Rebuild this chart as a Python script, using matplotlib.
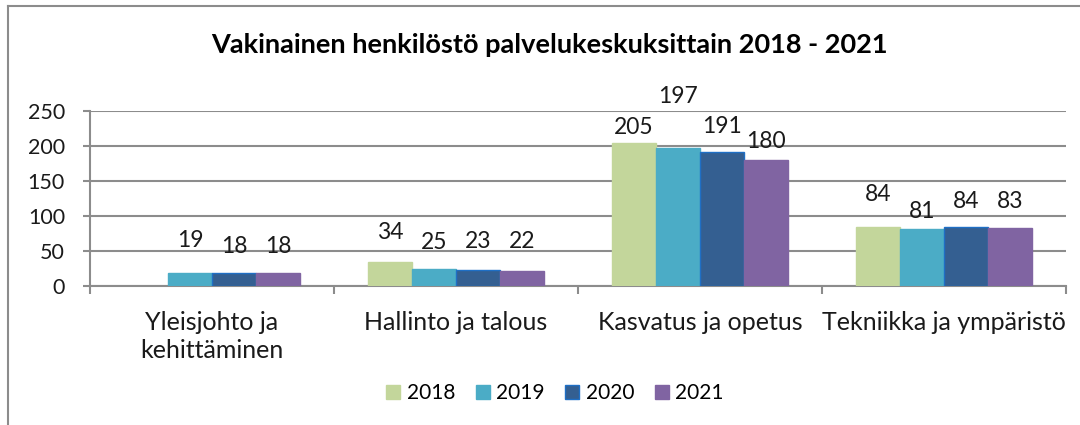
import matplotlib
matplotlib.use("Agg")
import matplotlib.pyplot as plt
from matplotlib.lines import Line2D
import numpy as np

categories = ["Yleisjohto ja\nkehittäminen", "Hallinto ja talous", "Kasvatus ja opetus", "Tekniikka ja ympäristö"]
years = ["2018", "2019", "2020", "2021"]
v2018 = [None, 34, 205, 84]
v2019 = [19, 25, 197, 81]
v2020 = [18, 23, 191, 84]
v2021 = [18, 22, 180, 83]
series = [v2018, v2019, v2020, v2021]

colors = ["#C3D69B", "#4BACC6", "#345F91", "#8064A2"]
edges = ["#C3D69B", "#4BACC6", "#1F6FC5", "#8064A2"]
# label offsets above bar top (pixels), per series per category
label_off_px = [
    [0, 30, 15, 33],
    [32, 26, 52, 18],
    [27, 28, 26, 26],
    [27, 29, 19, 26],
]

plt.rcParams['font.family'] = ['Lato', 'DejaVu Sans']
DPI = 100
fig = plt.figure(figsize=(10.8, 4.25), dpi=DPI)
ax = fig.add_axes([90/1080, 1-286/425, (1066-90)/1080, (286-111)/425])

x = np.arange(len(categories)) + 0.5
w = 0.18
for i, (vals, c, ec) in enumerate(zip(series, colors, edges)):
    xs = x + (i - 1.5) * w
    for j, v in enumerate(vals):
        if v is None:
            continue
        ax.bar(xs[j], v, width=w, color=c, edgecolor=ec, linewidth=1.0, zorder=3)
        ax.annotate(str(v), (xs[j], v), xytext=(0, label_off_px[i][j] * 72 / DPI),
                    textcoords="offset points", ha="center", va="center",
                    fontsize=16.5, color="#1a1a1a", zorder=4)

ax.set_xlim(0, 4)
ax.set_ylim(0, 250)
ax.set_yticks([0, 50, 100, 150, 200, 250])
ax.yaxis.grid(True, color="#8c8c8c", linewidth=1.5, zorder=0)
ax.set_axisbelow(True)
for s in ["top", "right"]:
    ax.spines[s].set_visible(False)
for s in ["left", "bottom"]:
    ax.spines[s].set_color("#8c8c8c")
    ax.spines[s].set_linewidth(1.5)
ax.set_xticks([0, 1, 2, 3, 4])
ax.set_xticklabels([])
ax.set_xticks(x, minor=True)
ax.set_xticklabels(categories, minor=True, fontsize=18, color="#1a1a1a", linespacing=1.28)
ax.tick_params(axis="x", which="major", length=5.5, width=1.5, color="#8c8c8c", direction="out")
ax.tick_params(axis="x", which="minor", length=0, pad=18)
ax.tick_params(axis="y", length=5, width=1.5, color="#8c8c8c", labelsize=15.5, labelcolor="#1a1a1a", pad=13)
for lbl in ax.get_xticklabels(minor=True):
    lbl.set_verticalalignment("top")

fig.text(549/1080, 1-45/425, "Vakinainen henkilöstö palvelukeskuksittain 2018 - 2021",
         ha="center", va="center", fontsize=19.5, fontweight="bold", color="#000000")

handles = [plt.Rectangle((0, 0), 1, 1, facecolor=c, edgecolor=ec) for c, ec in zip(colors, edges)]
fig.legend(handles, years, loc="center", bbox_to_anchor=(555/1080, 1-393/425), ncol=4,
           frameon=False, fontsize=15, handlelength=0.67, handleheight=0.67,
           handletextpad=0.3, columnspacing=1.0, borderpad=0, borderaxespad=0)

# outer frame (left and top)
fig.add_artist(Line2D([8/1080, 8/1080], [0, 1-6/425], transform=fig.transFigure, color="#8c8c8c", linewidth=1.5))
fig.add_artist(Line2D([8/1080, 1], [1-6/425, 1-6/425], transform=fig.transFigure, color="#8c8c8c", linewidth=1.5))

fig.savefig("out.png", dpi=DPI)
